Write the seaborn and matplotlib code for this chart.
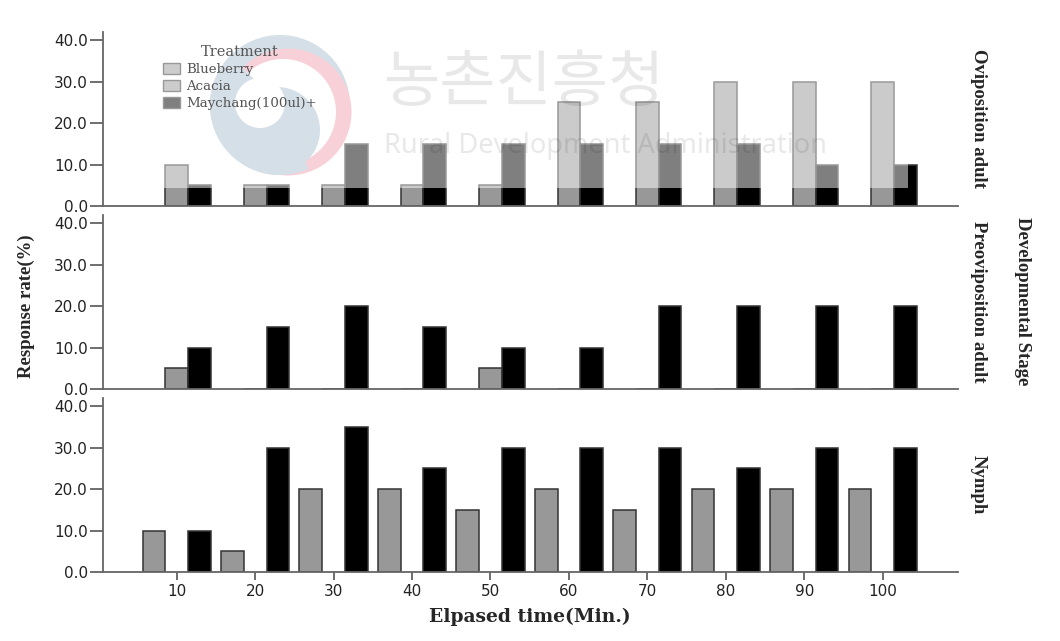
import numpy as np
import pandas as pd

import matplotlib.pyplot as plt
from matplotlib.patches import Circle, Rectangle, Wedge
from matplotlib.transforms import blended_transform_factory
import seaborn as sns

sns.set_theme(style="white")
plt.rcParams['font.family'] = ['DejaVu Sans']

# -- Values -- #
minutes = [10, 20, 30, 40, 50, 60, 70, 80, 90, 100]
treatments = ["Blueberry", "Acacia", "Maychang(100ul)+"]
stages = ["Oviposition adult", "Preoviposition adult", "Nymph"]

ovi_acacia = [10, 5, 5, 5, 5, 25, 25, 30, 30, 30]
ovi_maychang = [5, 5, 15, 15, 15, 15, 15, 15, 10, 10]
pre_acacia = [5, 0, 0, 0, 5, 0, 0, 0, 0, 0]
pre_maychang = [10, 15, 20, 15, 10, 10, 20, 20, 20, 20]
nymph_blueberry = [10, 5, 20, 20, 15, 20, 15, 20, 20, 20]
nymph_maychang = [10, 30, 35, 25, 30, 30, 30, 25, 30, 30]
y_ticks = [0, 10, 20, 30, 40]

rows = []
for stage, treatment, values in [
    (stages[0], treatments[1], ovi_acacia),
    (stages[0], treatments[2], ovi_maychang),
    (stages[1], treatments[1], pre_acacia),
    (stages[1], treatments[2], pre_maychang),
    (stages[2], treatments[0], nymph_blueberry),
    (stages[2], treatments[2], nymph_maychang),
]:
    for minute, value in zip(minutes, values):
        rows.append({"stage": stage, "treatment": treatment, "minute": minute, "rate": value})
df = pd.DataFrame(rows)

palette = {treatments[0]: "#989898", treatments[1]: "#989898", treatments[2]: "#000000"}
W, H = 1060, 641
blue = "#ABBFD1"
pink = "#F1A1B1"

fig, axes = plt.subplots(3, 1, figsize=(W / 100, H / 100), dpi=100, sharex=True)
fig.subplots_adjust(left=103 / W, right=958 / W, top=1 - 32 / H, bottom=1 - 572 / H, hspace=0.052)

# Background layer: the faint logo sits behind the bars (y runs down here)
bg = fig.add_axes([0, 0, 1, 1], zorder=-1)
bg.set_xlim(0, W)
bg.set_ylim(H, 0)
bg.axis("off")
bg.add_patch(Circle((280, 105), 70, color=blue, lw=0))
bg.add_patch(Circle((288, 112), 63.5, color=pink, lw=0))
bg.add_patch(Circle((283, 112), 53, color="white", lw=0))
bg.add_patch(Wedge((280, 105), 70, 66, 225, color=blue, lw=0))
bg.add_patch(Circle((277, 130), 43, color=blue, lw=0))
bg.add_patch(Circle((260, 103), 25, color="white", lw=0))

for ax, stage in zip(axes, stages):
    ax.patch.set_alpha(0)
    sns.barplot(
        data=df[df["stage"] == stage],
        x="minute",
        y="rate",
        hue="treatment",
        order=minutes,
        hue_order=treatments,
        palette=palette,
        width=0.87,
        gap=0,
        errorbar=None,
        edgecolor="#333333",
        linewidth=1.1,
        legend=False,
        ax=ax,
    )
    ax.set_xlim(-0.94, 9.96)
    ax.set_ylim(0, 42)
    ax.set_yticks(y_ticks)
    ax.set_yticklabels([f"{t:.1f}" for t in y_ticks], fontsize=11, color="#222222")
    ax.tick_params(axis="y", left=True, length=9.4, width=1.2, color="#555555", pad=1.5)
    ax.tick_params(axis="x", bottom=False)
    ax.set_xlabel("")
    ax.set_ylabel("")
    sns.despine(ax=ax)
    for side in ["left", "bottom"]:
        ax.spines[side].set_color("#666666")
        ax.spines[side].set_linewidth(1.3)
    ax.text(
        978 / W, 0.5, stage, transform=blended_transform_factory(fig.transFigure, ax.transAxes),
        rotation=-90, ha="center", va="center", fontsize=13.5, fontweight="bold", family="Liberation Serif",
    )

axes[2].set_xticks(range(len(minutes)))
axes[2].set_xticklabels(minutes, fontsize=11, color="#222222")
axes[2].tick_params(axis="x", bottom=True, length=5.8, width=1.2, color="#555555", pad=3)

fig.text(26 / W, 1 - 306 / H, "Response rate(%)", rotation=90, ha="center", va="center",
         fontsize=13.5, fontweight="bold", family="Liberation Serif")
fig.text(530 / W, 1 - 617 / H, "Elpased time(Min.)", ha="center", va="center",
         fontsize=13.5, fontweight="bold", family="DejaVu Serif")
fig.text(1023 / W, 1 - 301 / H, "Developmental Stage", rotation=-90, ha="center", va="center",
         fontsize=13.5, fontweight="bold", family="Liberation Serif")

# Foreground layer: washed-out white box, legend and watermark text
fg = fig.add_axes([0, 0, 1, 1], zorder=5)
fg.set_xlim(0, W)
fg.set_ylim(H, 0)
fg.axis("off")
fg.patch.set_alpha(0)

fg.add_patch(Rectangle((108, 34), 800, 154, facecolor="white", alpha=0.5, lw=0, zorder=1))

swatches = ["#CCCCCC", "#CCCCCC", "#808080"]
handles = [Rectangle((0, 0), 1, 1, facecolor=c, edgecolor="#999999", lw=1) for c in swatches]
legend = fg.legend(
    handles, treatments, title="Treatment", loc="upper left", bbox_to_anchor=(152 / W, 1 - 34 / H),
    frameon=False, handlelength=1.3, handleheight=0.9, handletextpad=0.45, labelspacing=0.3,
    borderpad=0.3, alignment="center",
    prop={"family": "DejaVu Serif", "size": 9.6},
    title_fontproperties={"family": "DejaVu Serif", "size": 10.5},
)
legend.set_zorder(2)
for text in legend.get_texts():
    text.set_color("#555555")
legend.get_title().set_color("#555555")

fg.text(525, 84, "농촌진흥청", ha="center", va="center", fontsize=44, color="black", alpha=0.09,
        family=["Noto Sans CJK KR", "DejaVu Sans"], zorder=3)
fg.text(606, 146, "Rural Development Administration", ha="center", va="center", fontsize=19.6,
        color="black", alpha=0.09, family="Noto Sans", zorder=3)

fig.savefig("out.png", dpi=100, facecolor="white")
plt.close()
